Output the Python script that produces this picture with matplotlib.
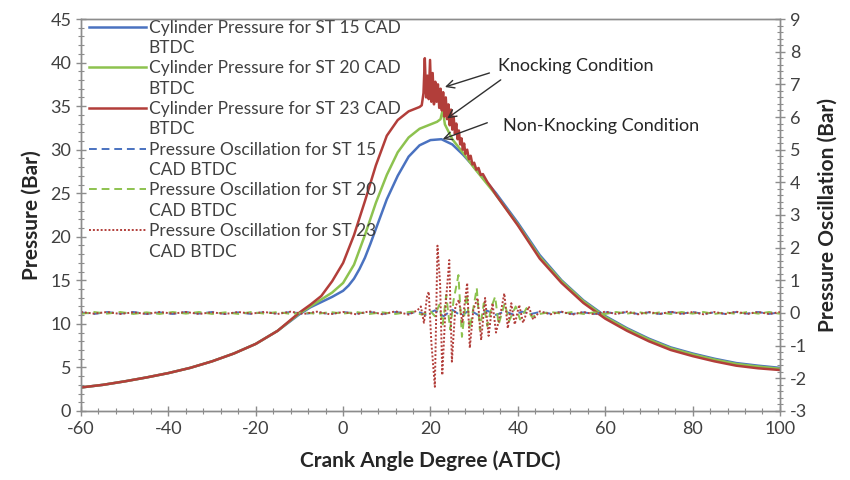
import matplotlib
matplotlib.use("Agg")
import matplotlib.pyplot as plt
from matplotlib.lines import Line2D
from matplotlib.ticker import MultipleLocator

plt.rcParams["font.family"] = ["Lato", "DejaVu Sans"]
plt.rcParams["axes.unicode_minus"] = False

# --- data -----------------------------------------------------------------

# cylinder pressure (Bar), left axis
ST15_ANGLE = [-60, -55, -50, -45, -40, -35, -30, -25, -20, -15, -10, -7.5, -5, -2.5, 0,
              1.25, 2.5, 3.75, 5, 6.25, 7.5, 10, 12.5, 15, 17.5, 20, 22.5, 25, 27.5, 30,
              35, 40, 45, 50, 55, 60, 65, 70, 75, 80, 85, 90, 95, 100]
ST15_PRESSURE = [2.7, 3.0, 3.4, 3.85, 4.35, 4.95, 5.7, 6.6, 7.7, 9.2, 11.1, 11.9, 12.5,
                 13.1, 13.8, 14.4, 15.2, 16.3, 17.6, 19.2, 20.9, 24.3, 27.0, 29.2, 30.5,
                 31.1, 31.2, 30.6, 29.4, 28.0, 25.0, 21.6, 17.9, 15.0, 12.7, 10.9, 9.5,
                 8.3, 7.3, 6.6, 6.0, 5.5, 5.2, 4.95]

ST20_ANGLE = [-60, -55, -50, -45, -40, -35, -30, -25, -20, -15, -10, -7.5, -5, -2.5, 0,
              2.5, 5, 7.5, 10, 12.5, 15, 17.5, 20, 21.5, 22.3, 22.8, 23.3, 25, 27.5, 30,
              35, 40, 45, 50, 55, 60, 65, 70, 75, 80, 85, 90, 95, 100]
ST20_PRESSURE = [2.7, 3.0, 3.4, 3.85, 4.35, 4.95, 5.7, 6.6, 7.7, 9.2, 11.2, 12.0, 12.8,
                 13.6, 14.7, 16.8, 20.2, 23.9, 27.1, 29.7, 31.4, 32.4, 32.9, 33.2, 33.5,
                 34.6, 32.9, 31.2, 29.6, 27.9, 24.8, 21.4, 17.7, 14.9, 12.6, 10.8, 9.4,
                 8.2, 7.2, 6.5, 5.9, 5.4, 5.1, 4.85]

ST23_ANGLE = [-60, -55, -50, -45, -40, -35, -30, -25, -20, -15, -10, -7.5, -5, -2.5, 0,
              2.5, 5, 7.5, 10, 12.5, 15, 17.5, 18.0, 18.4, 18.7, 19.0, 19.3, 19.6, 19.9,
              20.2, 20.5, 20.8, 21.1, 21.4, 21.7, 22.0, 22.3, 22.6, 22.9, 23.2, 23.5,
              23.8, 24.1, 24.4, 24.7, 25.0, 25.3, 25.6, 25.9, 26.2, 26.5, 26.8, 27.1,
              27.4, 27.7, 28.0, 28.4, 28.8, 29.2, 29.6, 30.0, 30.5, 31.0, 31.5, 32.0,
              33, 34, 35, 40, 45, 50, 55, 60, 65, 70, 75, 80, 85, 90, 95, 100]
ST23_PRESSURE = [2.7, 3.0, 3.4, 3.85, 4.35, 4.95, 5.7, 6.6, 7.7, 9.2, 11.3, 12.2, 13.2,
                 14.9, 17.0, 20.2, 24.1, 28.2, 31.6, 33.4, 34.4, 34.9, 35.1, 36.5, 40.5,
                 36.0, 38.5, 35.8, 40.3, 35.5, 38.8, 35.2, 37.8, 35.5, 37.5, 34.8, 37.0,
                 34.5, 36.6, 33.8, 36.0, 33.5, 35.2, 32.8, 34.6, 32.3, 33.8, 31.8, 33.0,
                 31.2, 32.2, 30.6, 31.3, 30.0, 30.7, 29.5, 30.0, 28.9, 29.3, 28.3, 28.5,
                 27.7, 27.9, 27.1, 27.2, 26.3, 25.6, 24.8, 21.3, 17.5, 14.7, 12.4, 10.6,
                 9.2, 8.0, 7.0, 6.3, 5.7, 5.2, 4.9, 4.7]

# pressure oscillation (Bar), right axis
QUIET_PRE = [-60, -57, -54, -51, -48, -45, -42, -39, -36, -33, -30, -27, -24, -21, -18,
             -15, -12, -9, -6, -3, 0, 3, 6, 9, 12, 15]
QUIET_POST = [45, 47.5, 50, 52.5, 55, 57.5, 60, 62.5, 65, 67.5, 70, 72.5, 75, 77.5, 80,
              82.5, 85, 87.5, 90, 92.5, 95, 97.5, 100]

ST15_OSC_PRE = [0.02, -0.03, 0.03, -0.02, 0.03, -0.03, 0.02, -0.03, 0.03, -0.02, 0.03,
                -0.03, 0.02, -0.03, 0.03, -0.02, 0.03, -0.03, 0.02, -0.03, 0.03, -0.02,
                0.03, -0.03, 0.03, -0.02]
ST15_BURST_ANGLE = [17, 19, 21, 23, 25, 27, 29, 31, 33, 35, 37, 39, 41, 43]
ST15_BURST = [0.04, -0.05, 0.08, -0.1, 0.1, -0.09, 0.09, -0.07, 0.07, -0.06, 0.05,
              -0.05, 0.04, -0.03]
ST15_OSC_POST = [0.03, -0.02, 0.03, -0.03, 0.02, -0.03, 0.03, -0.02, 0.03, -0.03, 0.02,
                 -0.03, 0.03, -0.02, 0.03, -0.03, 0.02, -0.03, 0.03, -0.02, 0.03, -0.03,
                 0.02]

ST20_OSC_PRE = [-0.03, 0.03, -0.02, 0.03, -0.03, 0.02, -0.03, 0.03, -0.02, 0.03, -0.03,
                0.02, -0.03, 0.03, -0.02, 0.03, -0.03, 0.02, -0.03, 0.03, -0.02, 0.03,
                -0.03, 0.02, -0.03, 0.03]
ST20_BURST_ANGLE = [16, 18, 20, 21, 22, 22.8, 23.6, 24.5, 25.3, 26.4, 27.2, 28.3, 29.0,
                    30.0, 30.6, 31.3, 32.2, 33.0, 34.0, 34.8, 35.6, 37.0, 38.0, 39.5,
                    40.5, 42.0, 43.2]
ST20_BURST = [0.04, -0.05, 0.06, -0.1, 0.25, -0.35, 0.55, -0.5, 0.4, 1.16, -0.73, 0.6,
              -0.5, 0.3, 0.76, -0.52, 0.3, -0.4, 0.2, 0.5, -0.35, 0.3, -0.25, 0.2, -0.2,
              0.15, -0.12]
ST20_OSC_POST = [-0.03, 0.03, -0.02, 0.03, -0.03, 0.02, -0.03, 0.03, -0.02, 0.03, -0.03,
                 0.02, -0.03, 0.03, -0.02, 0.03, -0.03, 0.02, -0.03, 0.03, -0.02, 0.03,
                 -0.02]

ST23_OSC_PRE = [0.03, -0.02, 0.03, -0.03, 0.02, -0.03, 0.03, -0.02, 0.03, -0.03, 0.02,
                -0.03, 0.03, -0.02, 0.03, -0.03, 0.04, -0.03, 0.04, -0.04, 0.03, -0.04,
                0.05, -0.04, 0.05, -0.05]
ST23_BURST_ANGLE = [17.0, 17.8, 18.5, 19.2, 19.6, 20.2, 21.0, 21.6, 22.2, 22.7, 23.5,
                    24.3, 24.9, 25.7, 26.5, 27.3, 28.4, 29.0, 29.8, 30.8, 31.6, 32.5,
                    33.3, 34.2, 35.0, 36.2, 36.9, 37.7, 38.5, 39.3, 40.3, 41.2, 42.5,
                    43.5]
ST23_BURST = [0.08, 0.2, -0.3, 0.5, 0.65, -0.9, -2.26, 2.06, 0.9, -1.9, 0.3, 1.62,
              -1.49, 0.2, 0.4, -0.3, 0.92, -1.07, 0.1, 0.46, -0.83, 0.46, -0.7, 0.3,
              -0.6, 0.1, 0.6, -0.47, 0.3, -0.35, 0.25, -0.3, 0.2, -0.2]
ST23_OSC_POST = [0.05, -0.04, 0.04, -0.05, 0.03, -0.04, 0.04, -0.03, 0.04, -0.04, 0.03,
                 -0.03, 0.04, -0.03, 0.03, -0.04, 0.03, -0.03, 0.04, -0.03, 0.03, -0.03,
                 0.03]

LEGEND_LABELS = [
    ("Cylinder Pressure for ST 15 CAD", "BTDC"),
    ("Cylinder Pressure for ST 20 CAD", "BTDC"),
    ("Cylinder Pressure for ST 23 CAD", "BTDC"),
    ("Pressure Oscillation for ST 15", "CAD BTDC"),
    ("Pressure Oscillation for ST 20", "CAD BTDC"),
    ("Pressure Oscillation for ST 23", "CAD BTDC"),
]

# --- styling ---------------------------------------------------------------

BLUE = "#4A72C0"
GREEN = "#8DC24F"
RED = "#B23E3A"
SPINE = "#8C8C8C"
TEXT = "#404040"
DASH = (0, (4, 2.5))
DOT = (0, (1, 1))


def style_axis(ax):
    for spine in ax.spines.values():
        spine.set_color(SPINE)
        spine.set_linewidth(1.0)
    ax.tick_params(which="major", direction="inout", length=7, width=1.0,
                   color=SPINE, labelcolor=TEXT, labelsize=13)
    ax.tick_params(which="minor", direction="inout", length=4, width=0.8, color=SPINE)


def main():
    fig = plt.figure(figsize=(8.5, 4.8), dpi=100)
    ax = fig.add_axes([0.0953, 0.1438, 0.8223, 0.8166])
    ax2 = ax.twinx()

    ax.plot(ST15_ANGLE, ST15_PRESSURE, color=BLUE, lw=1.8)
    ax.plot(ST20_ANGLE, ST20_PRESSURE, color=GREEN, lw=1.8)
    ax.plot(ST23_ANGLE, ST23_PRESSURE, color=RED, lw=1.8)

    osc = [
        (ST15_OSC_PRE, ST15_BURST_ANGLE, ST15_BURST, ST15_OSC_POST, BLUE, DASH),
        (ST20_OSC_PRE, ST20_BURST_ANGLE, ST20_BURST, ST20_OSC_POST, GREEN, DASH),
        (ST23_OSC_PRE, ST23_BURST_ANGLE, ST23_BURST, ST23_OSC_POST, RED, DOT),
    ]
    for pre, b_ang, b_val, post, color, ls in osc:
        angles = QUIET_PRE + b_ang + QUIET_POST
        values = pre + b_val + post
        ax2.plot(angles, values, color=color, lw=1.4, linestyle=ls)

    ax.set_xlim(-60, 100)
    ax.set_ylim(0, 45)
    ax2.set_ylim(-3, 9)
    ax.xaxis.set_major_locator(MultipleLocator(20))
    ax.xaxis.set_minor_locator(MultipleLocator(4))
    ax.yaxis.set_major_locator(MultipleLocator(5))
    ax.yaxis.set_minor_locator(MultipleLocator(1))
    ax2.yaxis.set_major_locator(MultipleLocator(1))
    ax2.yaxis.set_minor_locator(MultipleLocator(0.2))
    style_axis(ax)
    style_axis(ax2)

    label_kw = dict(fontsize=15, fontweight="bold", color="#262626")
    ax.set_xlabel("Crank Angle Degree (ATDC)", labelpad=10, **label_kw)
    ax.set_ylabel("Pressure (Bar)", labelpad=6, **label_kw)
    ax2.set_ylabel("Pressure Oscillation (Bar)", labelpad=8, **label_kw)

    # annotations
    arrow_kw = dict(arrowstyle="->", color="#303030", lw=1.0, mutation_scale=14)
    ax.annotate("", xy=(22.7, 37.1), xytext=(34.1, 38.9), arrowprops=arrow_kw)
    ax.annotate("", xy=(23.3, 33.4), xytext=(36.6, 38.2), arrowprops=arrow_kw)
    ax.annotate("", xy=(22.2, 31.1), xytext=(33.6, 33.2), arrowprops=arrow_kw)
    ax.text(35.5, 39.6, "Knocking Condition", fontsize=13, color="#262626", va="center")
    ax.text(36.6, 32.7, "Non-Knocking Condition", fontsize=13, color="#262626", va="center")

    # legend: each entry spread over two rows, like the spreadsheet original
    styles = [(BLUE, "-"), (GREEN, "-"), (RED, "-"), (BLUE, DASH), (GREEN, DASH), (RED, DOT)]
    handles, labels = [], []
    for (first, second), (color, ls) in zip(LEGEND_LABELS, styles):
        handles.append(Line2D([], [], color=color, lw=1.8 if ls == "-" else 1.4, linestyle=ls))
        labels.append(first)
        handles.append(Line2D([], [], linestyle="none"))
        labels.append(second)
    leg = ax.legend(handles, labels, loc="upper left", bbox_to_anchor=(0.0, 1.018),
                    frameon=False, fontsize=12.5, handlelength=3.3, handletextpad=0.15,
                    labelspacing=0.25, borderpad=0.15, borderaxespad=0.3)
    for t in leg.get_texts():
        t.set_color(TEXT)

    fig.savefig("out.png", dpi=100)
    plt.close(fig)


if __name__ == "__main__":
    main()
